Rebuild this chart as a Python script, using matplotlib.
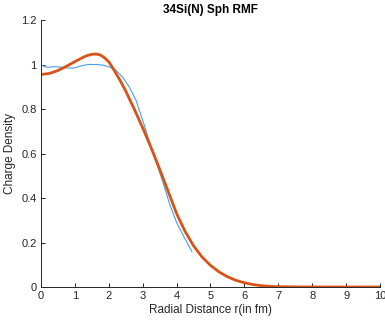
import matplotlib
matplotlib.use("Agg")
import matplotlib.pyplot as plt

plt.rcParams['font.family'] = ['Liberation Sans', 'DejaVu Sans']

# experimental-like density (blue, thin)
r_exp = [0.0, 0.1, 0.2, 0.4, 0.6, 0.8, 1.0, 1.2, 1.4, 1.6, 1.8, 2.0, 2.2, 2.4,
         2.6, 2.8, 3.0, 3.2, 3.4, 3.6, 3.8, 4.0, 4.2, 4.45]
rho_exp = [1.0, 0.99, 0.988, 0.99, 0.988, 0.984, 0.985, 0.995, 1.0, 1.0, 0.998,
           0.99, 0.975, 0.945, 0.9, 0.84, 0.75, 0.65, 0.56, 0.47, 0.37, 0.29,
           0.23, 0.16]

# RMF density (orange, thick)
r_rmf = [0.0, 0.25, 0.5, 0.75, 1.0, 1.25, 1.375, 1.5, 1.625, 1.75, 1.875, 2.0,
         2.125, 2.25, 2.375, 2.5, 2.75, 3.0, 3.25, 3.5, 3.75, 4.0, 4.25, 4.5,
         4.75, 5.0, 5.25, 5.5, 5.75, 6.0, 6.25, 6.5, 6.75, 7.0, 7.5, 8.0, 9.0,
         10.0]
rho_rmf = [0.955, 0.96, 0.973, 0.992, 1.013, 1.033, 1.041, 1.046, 1.047, 1.043,
           1.030, 1.012, 0.983, 0.95, 0.917, 0.88, 0.80, 0.715, 0.625, 0.53,
           0.43, 0.33, 0.25, 0.185, 0.135, 0.097, 0.068, 0.046, 0.030, 0.019,
           0.011, 0.006, 0.003, 0.0015, 0.0005, 0.0002, 0.0, 0.0]

fig = plt.figure(figsize=(3.85, 3.27), dpi=100)
ax = fig.add_axes([0.1065, 0.1223, 0.8805, 0.8165])

ax.plot(r_exp, rho_exp, color='#4a9fe0', lw=0.8)
ax.plot(r_rmf, rho_rmf, color='#d95319', lw=2.0, solid_joinstyle='round')

ax.set_xlim(0, 10)
ax.set_ylim(0, 1.2)
ax.set_xticks(range(0, 11))
ax.set_yticks([0, 0.2, 0.4, 0.6, 0.8, 1.0, 1.2])
ax.set_yticklabels(['0', '0.2', '0.4', '0.6', '0.8', '1', '1.2'])

for s in ['top', 'right']:
    ax.spines[s].set_visible(False)
for s in ['left', 'bottom']:
    ax.spines[s].set_color('#262626')
    ax.spines[s].set_linewidth(0.7)
ax.tick_params(direction='in', length=3, width=0.7, colors='#262626',
               labelsize=8, pad=3)

ax.set_xlabel('Radial Distance r(in fm)', fontsize=8.5, color='#262626', labelpad=2)
ax.set_ylabel('Charge Density', fontsize=8.5, color='#262626', labelpad=4)
ax.set_title('34Si(N) Sph RMF', fontsize=8.5, fontweight='bold', pad=5)

fig.savefig('out.png', dpi=100)
